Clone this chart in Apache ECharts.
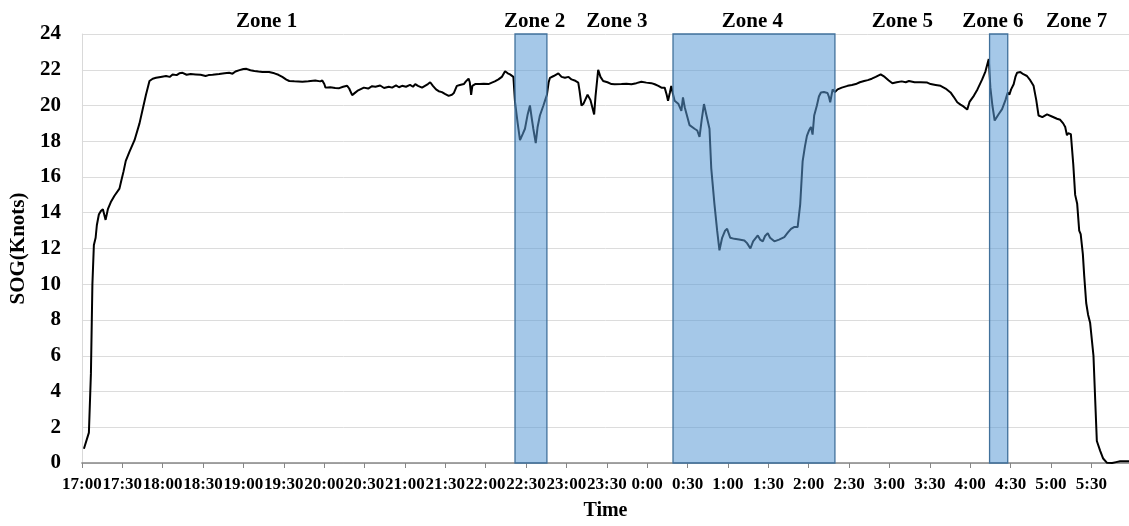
<!DOCTYPE html>
<html>
<head>
<meta charset="utf-8">
<script src="https://cdn.jsdelivr.net/npm/echarts@6/dist/echarts.min.js"></script>
<style>
  html, body { margin: 0; padding: 0; background: #ffffff; }
  #chart { width: 1129px; height: 526px; }
</style>
</head>
<body>
<div id="chart"></div>
<script>
// Elapsed time since 17:00, in minutes
const timeMin = [
  1.5, 5.2, 6.7, 7.8, 8.9, 10.2, 11.1, 12.6, 14.1, 15.6, 17.6, 19.3, 21.5, 24.2, 27.9, 29.3, 30.9, 32.6, 35.3, 39.1,
  42.8, 45.2, 47.6, 50.2, 52.6, 55.1, 58.5, 62.5, 65.2, 67.4, 70.4, 72.4, 74.8, 77.8, 80.8, 84.5, 88.2, 91.9, 94.1, 97.1,
  102.0, 106.0, 109.4, 111.9, 114.1, 117.1, 120.0, 122.3, 125.2, 128.2, 131.2, 134.1, 139.1, 143.0, 146.0, 148.9, 151.9, 154.1, 157.8, 163.8,
  168.2, 173.4, 177.1, 178.6, 180.1, 181.0, 184.5, 188.2, 191.2, 194.1, 197.1, 198.6, 200.8, 203.1, 205.3, 209.5, 212.7, 215.6, 218.1, 221.6,
  224.5, 228.0, 230.5, 233.4, 235.6, 237.9, 240.8, 243.8, 246.0, 247.7, 249.7, 252.7, 254.9, 257.1, 258.8, 260.8, 263.1, 265.1, 267.5, 269.7,
  272.5, 274.9, 276.4, 278.6, 280.8, 283.8, 285.3, 287.3, 288.2, 289.2, 290.1, 292.2, 295.7, 298.6, 302.1, 304.6, 306.8, 309.5, 312.0, 314.4,
  316.4, 318.1, 320.6, 321.8, 323.8, 325.5, 327.5, 329.2, 331.2, 332.9, 334.2, 335.4, 337.2, 338.6, 340.3, 342.9, 344.2, 345.5, 346.8, 347.8,
  350.5, 354.0, 356.4, 358.9, 361.6, 363.8, 366.1, 368.8, 369.8, 371.2, 372.7, 375.7, 377.9, 380.6, 381.6, 383.6, 385.3, 387.3, 390.5, 393.5,
  395.9, 400.9, 404.6, 408.3, 412.0, 415.7, 419.4, 423.1, 425.6, 428.3, 430.6, 433.0, 434.5, 435.5, 436.8, 437.9, 439.0, 440.4, 443.1, 445.4,
  446.6, 447.9, 449.0, 451.5, 452.8, 455.2, 457.2, 458.9, 460.5, 462.2, 463.9, 466.3, 467.6, 470.0, 472.0, 473.7, 475.7, 477.9, 479.4, 481.7,
  484.8, 488.3, 492.2, 494.2, 496.7, 498.7, 502.2, 503.9, 505.9, 507.6, 509.6, 511.3, 514.5, 518.0, 521.9, 524.6, 526.9, 529.1, 531.8, 533.7,
  535.5, 537.2, 538.7, 540.2, 541.7, 542.9, 544.1, 546.1, 547.6, 549.1, 551.3, 554.0, 555.0, 556.0, 557.8, 559.5, 561.5, 564.6, 568.9, 572.1,
  575.0, 578.0, 581.2, 583.9, 586.9, 589.8, 593.5, 596.5, 599.5, 602.2, 605.4, 609.1, 612.1, 614.5, 618.7, 623.2, 628.1, 630.6, 634.3, 638.0,
  641.7, 645.4, 647.6, 650.4, 652.8, 655.0, 657.8, 659.5, 662.7, 665.4, 668.9, 671.3, 673.8, 675.0, 676.5, 678.2, 681.0, 683.7, 686.2, 687.9,
  689.1, 690.4, 692.3, 693.6, 694.8, 697.3, 699.5, 702.2, 704.7, 707.1, 709.1, 710.8, 713.6, 717.1, 720.3, 724.5, 726.9, 729.1, 730.6, 731.9,
  732.8, 734.8, 736.6, 738.0, 739.5, 741.0, 742.1, 743.7, 744.7, 746.2, 747.6, 749.1, 751.6, 752.9, 754.1, 756.6, 758.8, 761.5, 765.5, 768.4,
  771.4, 775.8, 778.0
];

// Speed over ground, knots
const sog = [
  0.8, 1.7, 5.0, 10.0, 12.2, 12.6, 13.3, 13.9, 14.1, 14.2, 13.6, 14.2, 14.6, 14.95, 15.35, 15.8, 16.3, 16.9, 17.4, 18.06,
  19.0, 19.8, 20.6, 21.37, 21.5, 21.55, 21.6, 21.65, 21.6, 21.74, 21.7, 21.8, 21.83, 21.72, 21.76, 21.74, 21.72, 21.65, 21.7, 21.72,
  21.76, 21.8, 21.83, 21.78, 21.9, 21.98, 22.04, 22.05, 21.97, 21.93, 21.9, 21.88, 21.87, 21.8, 21.72, 21.6, 21.45, 21.37, 21.35, 21.33,
  21.36, 21.4, 21.35, 21.4, 21.2, 21.0, 21.02, 20.98, 20.97, 21.05, 21.1, 20.95, 20.58, 20.72, 20.85, 21.0, 20.95, 21.08, 21.05, 21.12,
  20.98, 21.05, 21.0, 21.12, 21.02, 21.1, 21.05, 21.15, 21.05, 21.2, 21.1, 21.0, 21.1, 21.2, 21.3, 21.1, 20.9, 20.8, 20.75, 20.65,
  20.54, 20.6, 20.7, 21.1, 21.15, 21.2, 21.35, 21.5, 21.3, 20.6, 21.1, 21.2, 21.2, 21.22, 21.2, 21.28, 21.35, 21.46, 21.6, 21.92,
  21.8, 21.74, 21.6, 20.2, 19.0, 18.06, 18.4, 18.7, 19.5, 20.0, 19.3, 18.7, 17.9, 18.8, 19.44, 20.0, 20.3, 20.6, 21.3, 21.55,
  21.65, 21.8, 21.6, 21.55, 21.6, 21.46, 21.4, 21.28, 20.8, 20.0, 20.1, 20.6, 20.3, 19.5, 20.5, 22.0, 21.6, 21.37, 21.3, 21.2,
  21.19, 21.2, 21.22, 21.19, 21.25, 21.33, 21.28, 21.25, 21.19, 21.1, 21.0, 21.0, 20.6, 20.27, 20.7, 21.1, 20.7, 20.27, 20.1, 19.7,
  20.45, 19.9, 19.6, 18.9, 19.0, 18.7, 18.6, 18.24, 19.2, 20.08, 19.5, 18.7, 16.5, 14.47, 13.0, 11.9, 12.6, 13.0, 13.1, 12.6,
  12.54, 12.5, 12.45, 12.3, 12.0, 12.4, 12.73, 12.5, 12.4, 12.7, 12.86, 12.6, 12.4, 12.5, 12.64, 12.9, 13.1, 13.2, 13.2, 14.47,
  16.87, 17.7, 18.3, 18.6, 18.8, 18.37, 19.44, 20.0, 20.5, 20.73, 20.75, 20.7, 20.5, 20.18, 20.9, 20.75, 20.9, 21.0, 21.1, 21.15,
  21.2, 21.3, 21.37, 21.42, 21.5, 21.6, 21.74, 21.6, 21.4, 21.24, 21.3, 21.35, 21.3, 21.37, 21.3, 21.3, 21.28, 21.2, 21.15, 21.1,
  20.95, 20.73, 20.5, 20.18, 20.05, 19.95, 19.77, 20.2, 20.54, 20.9, 21.46, 21.9, 22.6, 21.0, 20.0, 19.16, 19.5, 19.8, 20.3, 20.73,
  20.6, 20.9, 21.19, 21.6, 21.83, 21.87, 21.75, 21.65, 21.4, 21.1, 20.3, 19.44, 19.35, 19.5, 19.4, 19.26, 19.2, 19.0, 18.8, 18.33,
  18.45, 18.4, 16.7, 15.0, 14.5, 13.0, 12.8, 11.7, 10.5, 8.95, 8.3, 7.85, 6.0, 3.5, 1.23, 0.68, 0.25, 0.02, 0.0, 0.05,
  0.1, 0.1, 0.1
];

// Shaded zones: [start, end] in minutes after 17:00
const zoneBands = [[321.8, 345.5], [439.2, 559.5], [674.4, 687.9]];

// Zone captions and where they sit along the time axis
const zoneNames = ['Zone 1', 'Zone 2', 'Zone 3', 'Zone 4', 'Zone 5', 'Zone 6', 'Zone 7'];
const zoneLabelAt = [137.2, 336.4, 397.5, 498.2, 609.7, 676.9, 739.0];

const serif = "'Liberation Serif', 'Times New Roman', serif";

function clockLabel(v) {
  const h = (17 + Math.floor(v / 60)) % 24;
  const m = Math.round(v % 60);
  return h + ':' + (m < 10 ? '0' : '') + m;
}

const chart = echarts.init(document.getElementById('chart'), null, { renderer: 'canvas' });

chart.setOption({
  animation: false,
  backgroundColor: '#ffffff',
  grid: { left: 79, right: 0, top: 34, bottom: 57, containLabel: false },
  xAxis: {
    type: 'value',
    min: 0,
    max: 778,
    interval: 30,
    name: 'Time',
    nameLocation: 'middle',
    nameGap: 38,
    nameTextStyle: { fontFamily: serif, fontWeight: 'bold', fontSize: 20, color: '#000' },
    axisLine: { show: true, lineStyle: { color: '#868686', width: 1.5 } },
    axisTick: { show: true, inside: false, length: 5, lineStyle: { color: '#868686', width: 1 } },
    axisLabel: {
      formatter: clockLabel,
      showMaxLabel: false,
      margin: 13,
      fontFamily: serif,
      fontWeight: 'bold',
      fontSize: 17,
      color: '#000'
    },
    splitLine: { show: false }
  },
  yAxis: {
    type: 'value',
    min: 0,
    max: 24,
    interval: 2,
    name: 'SOG(Knots)',
    nameLocation: 'middle',
    nameGap: 45,
    nameTextStyle: { fontFamily: serif, fontWeight: 'bold', fontSize: 21, color: '#000' },
    axisLine: { show: true, lineStyle: { color: '#d9d9d9', width: 1 } },
    axisTick: { show: false },
    axisLabel: { margin: 21, fontFamily: serif, fontWeight: 'bold', fontSize: 21, color: '#000' },
    splitLine: { show: true, lineStyle: { color: '#dcdcdc', width: 1 } }
  },
  series: [
    {
      type: 'line',
      data: timeMin.map((t, i) => [t, sog[i]]),
      showSymbol: false,
      smooth: false,
      lineStyle: { color: '#000000', width: 2 },
      z: 2
    },
    {
      type: 'custom',
      data: zoneBands,
      z: 3,
      renderItem: function (params, api) {
        const p0 = api.coord([api.value(0), 24]);
        const p1 = api.coord([api.value(1), 0]);
        return {
          type: 'rect',
          shape: { x: p0[0], y: p0[1], width: p1[0] - p0[0], height: p1[1] - p0[1] },
          style: { fill: 'rgba(91,155,213,0.55)', stroke: '#41719c', lineWidth: 1.3 }
        };
      }
    },
    {
      type: 'custom',
      data: zoneLabelAt.map((t, i) => [t, 24, zoneNames[i]]),
      z: 4,
      clip: false,
      renderItem: function (params, api) {
        const p = api.coord([api.value(0), 24]);
        return {
          type: 'text',
          x: p[0],
          y: p[1] - 12,
          style: {
            text: zoneNames[params.dataIndex],
            fill: '#000',
            font: 'bold 21px ' + serif,
            align: 'center',
            verticalAlign: 'middle'
          }
        };
      }
    }
  ]
});
</script>
</body>
</html>
